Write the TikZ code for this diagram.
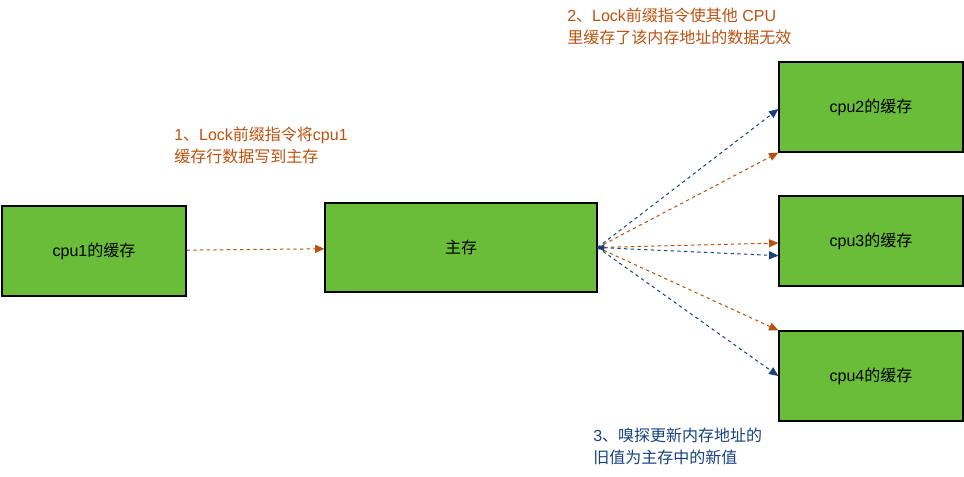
\documentclass[tikz,border=0pt]{standalone}
\usepackage{fontspec}
\setmainfont{Liberation Sans}
\newfontfamily\cjk{Noto Sans CJK SC}
\usetikzlibrary{positioning, arrows.meta}
\definecolor{cachefill}{HTML}{6ABD38}
\definecolor{lockline}{HTML}{B9520F}
\definecolor{snoopline}{HTML}{15427E}
\newcommand{\labelfont}{\fontsize{12}{16.5}\selectfont}
\newcommand{\zh}[1]{{\cjk #1}}
\tikzset{
  cache/.style={
    draw=black,
    fill=cachefill,
    line width=0.9pt,
    minimum width=138pt,
    minimum height=67.5pt,
    font=\labelfont
  },
  note/.style={anchor=north west, align=left, inner sep=0pt, font=\labelfont},
  lockarr/.style={-{Triangle[length=7pt, width=6pt]}, lockline, dashed, dash pattern=on 2.5pt off 2.5pt, line width=0.75pt},
  snooparr/.style={-{Triangle[length=7pt, width=6pt]}, snoopline, dashed, dash pattern=on 2.5pt off 2.5pt, line width=0.75pt}
}

\begin{document}
\begin{tikzpicture}[x=0.75pt, y=-0.75pt]
  \useasboundingbox (0,0) rectangle (964,476);

  % caches and main memory
  \node[cache] (c1) at (94,251) {cpu1\zh{的缓存}};
  \node[cache, minimum width=204pt, minimum height=66.75pt] (mem) at (461,247.5) {\zh{主存}};
  \node[cache] (c2) at (871,107) {cpu2\zh{的缓存}};
  \node[cache] (c3) at (871,241) {cpu3\zh{的缓存}};
  \node[cache] (c4) at (871,376) {cpu4\zh{的缓存}};

  % step notes
  \node[note, text=lockline] (n1) at (174,127) {1\zh{、}Lock\zh{前缀指令将}cpu1\\\zh{缓存行数据写到主存}};
  \node[note, text=lockline] (n2) at (567,8) {2\zh{、}Lock\zh{前缀指令使其他} CPU\\\zh{里缓存了该内存地址的数据无效}};
  \node[note, text=snoopline] (n3) at (593,428) {3\zh{、嗅探更新内存地址的}\\\zh{旧值为主存中的新值}};

  % write back, invalidate, snoop
  \draw[lockarr] (c1) -- (mem);
  \draw[lockarr] (mem.east) -- (c2.south west);
  \draw[lockarr] (mem.east) -- ([yshift=-1.5pt]c3.west);
  \draw[lockarr] (mem.east) -- (c4.north west);
  \draw[snooparr] (mem.east) -- ([yshift=-1.5pt]c2.west);
  \draw[snooparr, {Triangle[length=5pt, width=5pt]}-{Triangle[length=7pt, width=6pt]}] (mem.east) -- ([yshift=-11pt]c3.west);
  \draw[snooparr] (mem.east) -- (c4.west);
\end{tikzpicture}
\end{document}
